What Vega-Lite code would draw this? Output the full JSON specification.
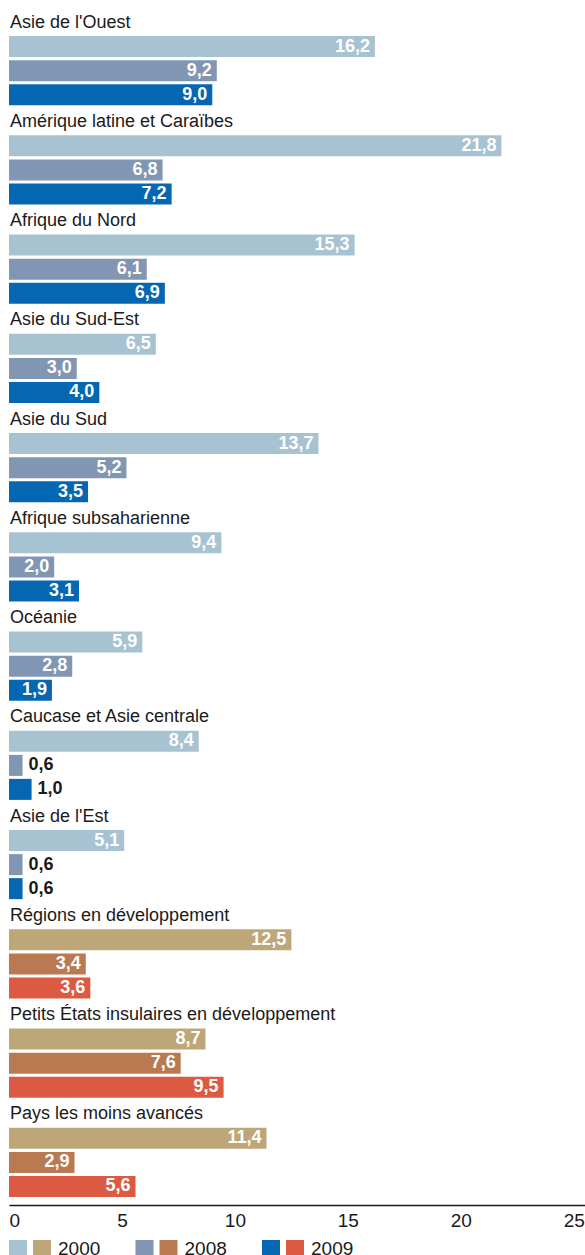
{
  "$schema": "https://vega.github.io/schema/vega-lite/v6.json",
  "padding": {"left": 9, "top": 9, "right": 0, "bottom": 0},
  "config": {
    "view": {"stroke": null},
    "font": "Liberation Sans",
    "concat": {"spacing": 10},
    "locale": {"number": {"decimal": ",", "thousands": " ", "grouping": [3], "currency": ["", " €"]}}
  },
  "datasets": {
    "bars": [
      {"g": "Asie de l'Ouest", "t": "R", "y": "2000", "s": "R2000", "v": 16.2},
      {"g": "Asie de l'Ouest", "t": "R", "y": "2008", "s": "R2008", "v": 9.2},
      {"g": "Asie de l'Ouest", "t": "R", "y": "2009", "s": "R2009", "v": 9.0},
      {"g": "Amérique latine et Caraïbes", "t": "R", "y": "2000", "s": "R2000", "v": 21.8},
      {"g": "Amérique latine et Caraïbes", "t": "R", "y": "2008", "s": "R2008", "v": 6.8},
      {"g": "Amérique latine et Caraïbes", "t": "R", "y": "2009", "s": "R2009", "v": 7.2},
      {"g": "Afrique du Nord", "t": "R", "y": "2000", "s": "R2000", "v": 15.3},
      {"g": "Afrique du Nord", "t": "R", "y": "2008", "s": "R2008", "v": 6.1},
      {"g": "Afrique du Nord", "t": "R", "y": "2009", "s": "R2009", "v": 6.9},
      {"g": "Asie du Sud-Est", "t": "R", "y": "2000", "s": "R2000", "v": 6.5},
      {"g": "Asie du Sud-Est", "t": "R", "y": "2008", "s": "R2008", "v": 3.0},
      {"g": "Asie du Sud-Est", "t": "R", "y": "2009", "s": "R2009", "v": 4.0},
      {"g": "Asie du Sud", "t": "R", "y": "2000", "s": "R2000", "v": 13.7},
      {"g": "Asie du Sud", "t": "R", "y": "2008", "s": "R2008", "v": 5.2},
      {"g": "Asie du Sud", "t": "R", "y": "2009", "s": "R2009", "v": 3.5},
      {"g": "Afrique subsaharienne", "t": "R", "y": "2000", "s": "R2000", "v": 9.4},
      {"g": "Afrique subsaharienne", "t": "R", "y": "2008", "s": "R2008", "v": 2.0},
      {"g": "Afrique subsaharienne", "t": "R", "y": "2009", "s": "R2009", "v": 3.1},
      {"g": "Océanie", "t": "R", "y": "2000", "s": "R2000", "v": 5.9},
      {"g": "Océanie", "t": "R", "y": "2008", "s": "R2008", "v": 2.8},
      {"g": "Océanie", "t": "R", "y": "2009", "s": "R2009", "v": 1.9},
      {"g": "Caucase et Asie centrale", "t": "R", "y": "2000", "s": "R2000", "v": 8.4},
      {"g": "Caucase et Asie centrale", "t": "R", "y": "2008", "s": "R2008", "v": 0.6},
      {"g": "Caucase et Asie centrale", "t": "R", "y": "2009", "s": "R2009", "v": 1.0},
      {"g": "Asie de l'Est", "t": "R", "y": "2000", "s": "R2000", "v": 5.1},
      {"g": "Asie de l'Est", "t": "R", "y": "2008", "s": "R2008", "v": 0.6},
      {"g": "Asie de l'Est", "t": "R", "y": "2009", "s": "R2009", "v": 0.6},
      {"g": "Régions en développement", "t": "G", "y": "2000", "s": "G2000", "v": 12.5},
      {"g": "Régions en développement", "t": "G", "y": "2008", "s": "G2008", "v": 3.4},
      {"g": "Régions en développement", "t": "G", "y": "2009", "s": "G2009", "v": 3.6},
      {"g": "Petits États insulaires en développement", "t": "G", "y": "2000", "s": "G2000", "v": 8.7},
      {"g": "Petits États insulaires en développement", "t": "G", "y": "2008", "s": "G2008", "v": 7.6},
      {"g": "Petits États insulaires en développement", "t": "G", "y": "2009", "s": "G2009", "v": 9.5},
      {"g": "Pays les moins avancés", "t": "G", "y": "2000", "s": "G2000", "v": 11.4},
      {"g": "Pays les moins avancés", "t": "G", "y": "2008", "s": "G2008", "v": 2.9},
      {"g": "Pays les moins avancés", "t": "G", "y": "2009", "s": "G2009", "v": 5.6}
    ],
    "leg": [
      {"y": "2000", "t": "R", "s": "R2000"},
      {"y": "2000", "t": "G", "s": "G2000"},
      {"y": "2008", "t": "R", "s": "R2008"},
      {"y": "2008", "t": "G", "s": "G2008"},
      {"y": "2009", "t": "R", "s": "R2009"},
      {"y": "2009", "t": "G", "s": "G2009"}
    ]
  },
  "vconcat": [
    {
      "width": 576,
      "height": 1191,
      "data": {"name": "bars"},
      "encoding": {
        "y": {"field": "g", "type": "nominal", "sort": null, "axis": null, "scale": {"paddingInner": 0, "paddingOuter": 0}},
        "yOffset": {"field": "y", "type": "nominal", "scale": {"domain": ["titre", "2000", "2008", "2009"], "paddingInner": 0.125, "paddingOuter": 0.13}}
      },
      "layer": [
        {
          "mark": {"type": "bar"},
          "encoding": {
            "x": {
              "field": "v", "type": "quantitative",
              "scale": {"domain": [0, 25.5], "nice": false},
              "axis": {
                "values": [0, 5, 10, 15, 20, 25],
                "grid": false, "ticks": false, "title": null,
                "domainColor": "#1a1a1a", "domainWidth": 1.5,
                "labelFontSize": 19, "labelColor": "#1a1a1a", "labelPadding": 6,
                "offset": 5, "labelFlush": false,
                "labelAlign": {"condition": {"test": "datum.value == 0", "value": "left"}, "value": "center"}
              }
            },
            "color": {
              "field": "s", "type": "nominal", "legend": null,
              "scale": {
                "domain": ["R2000", "R2008", "R2009", "G2000", "G2008", "G2009"],
                "range": ["#a7c3d2", "#8196b3", "#0567b1", "#bda779", "#b97a52", "#dc5a42"]
              }
            }
          }
        },
        {
          "transform": [{"filter": "datum.v >= 1.5"}],
          "mark": {"type": "text", "align": "right", "baseline": "middle", "dx": -5, "fontSize": 18, "fontWeight": "bold", "color": "#ffffff"},
          "encoding": {
            "x": {"field": "v", "type": "quantitative"},
            "text": {"field": "v", "type": "quantitative", "format": ".1f"}
          }
        },
        {
          "transform": [{"filter": "datum.v < 1.5"}],
          "mark": {"type": "text", "align": "left", "baseline": "middle", "dx": 6, "fontSize": 18, "fontWeight": "bold", "color": "#1a1a1a"},
          "encoding": {
            "x": {"field": "v", "type": "quantitative"},
            "text": {"field": "v", "type": "quantitative", "format": ".1f"}
          }
        },
        {
          "transform": [{"filter": "datum.y == '2000'"}],
          "mark": {"type": "text", "align": "left", "baseline": "middle", "dx": 1, "fontSize": 18, "color": "#1a1a1a"},
          "encoding": {
            "x": {"datum": 0, "type": "quantitative"},
            "yOffset": {"datum": "titre"},
            "text": {"field": "g"}
          }
        }
      ]
    },
    {
      "width": 253,
      "height": 18,
      "data": {"name": "leg"},
      "encoding": {
        "x": {"field": "y", "type": "nominal", "axis": null, "scale": {"type": "point", "padding": 0}},
        "color": {
          "field": "s", "type": "nominal", "legend": null,
          "scale": {
            "domain": ["R2000", "R2008", "R2009", "G2000", "G2008", "G2009"],
            "range": ["#a7c3d2", "#8196b3", "#0567b1", "#bda779", "#b97a52", "#dc5a42"]
          }
        }
      },
      "layer": [
        {
          "transform": [{"filter": "datum.t == 'R'"}],
          "mark": {"type": "square", "size": 324, "opacity": 1, "xOffset": 9}
        },
        {
          "transform": [{"filter": "datum.t == 'G'"}],
          "mark": {"type": "square", "size": 324, "opacity": 1, "xOffset": 33}
        },
        {
          "transform": [{"filter": "datum.t == 'R'"}],
          "mark": {"type": "text", "align": "left", "baseline": "middle", "dx": 49, "fontSize": 19, "color": "#1a1a1a"},
          "encoding": {
            "text": {"field": "y"},
            "color": {"value": "#1a1a1a"}
          }
        }
      ]
    }
  ]
}
